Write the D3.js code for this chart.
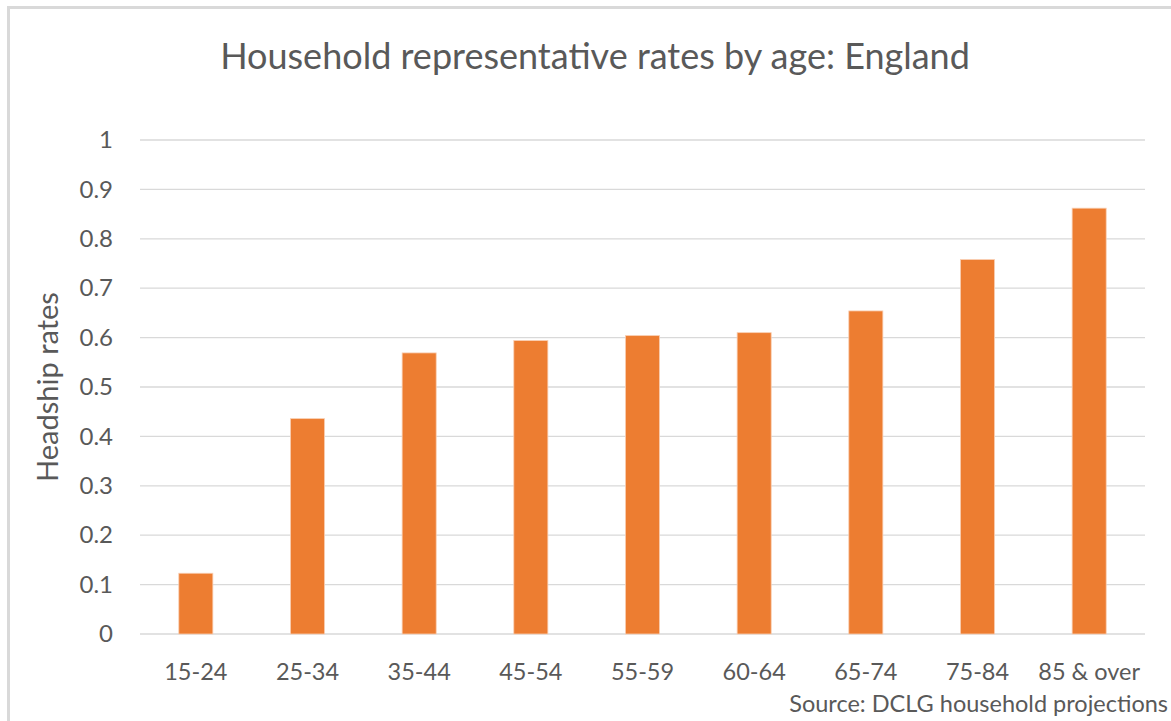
<!DOCTYPE html>
<html>
<head>
<meta charset="utf-8">
<script src="https://cdn.jsdelivr.net/npm/d3@7"></script>
<style>
  html, body { margin: 0; padding: 0; background: #fff; }
  svg { display: block; }
  text { font-family: Lato, "Open Sans", sans-serif; fill: #595959; }
</style>
</head>
<body>
<svg id="chart" width="1171" height="721"></svg>
<script>
// Age groups and headship rates
const ageGroups = ["15-24", "25-34", "35-44", "45-54", "55-59", "60-64", "65-74", "75-84", "85 & over"];
const headshipRates = [0.123, 0.436, 0.569, 0.594, 0.604, 0.610, 0.654, 0.758, 0.862];
const yTicks = [0, 0.1, 0.2, 0.3, 0.4, 0.5, 0.6, 0.7, 0.8, 0.9, 1];

const svg = d3.select("#chart");

// outer frame
svg.append("rect")
  .attr("x", 8.5).attr("y", 7.5)
  .attr("width", 1180).attr("height", 740)
  .attr("fill", "#fff")
  .attr("stroke", "#d9d9d9").attr("stroke-width", 3);

const plot = { left: 140, right: 1145, top: 140, bottom: 634 };

const x = d3.scaleBand()
  .domain(ageGroups)
  .range([plot.left, plot.right])
  .paddingInner(0.695)
  .paddingOuter(0.3475);

const y = d3.scaleLinear().domain([0, 1]).range([plot.bottom, plot.top]);

// gridlines
svg.append("g")
  .selectAll("line")
  .data(yTicks)
  .join("line")
  .attr("x1", plot.left).attr("x2", plot.right)
  .attr("y1", d => y(d)).attr("y2", d => y(d))
  .attr("stroke", "#d9d9d9").attr("stroke-width", 1.3);

// y axis labels
const yAxis = d3.axisLeft(y).tickValues(yTicks).tickSize(0).tickPadding(0)
  .tickFormat(d => d3.format("")(+d.toFixed(1)));
const gy = svg.append("g").attr("transform", `translate(${plot.left - 27},0)`).call(yAxis);
gy.select(".domain").remove();
gy.selectAll("text").attr("font-size", 24).attr("font-family", "Lato, sans-serif").attr("fill", "#595959");

// bars
svg.append("g")
  .selectAll("rect")
  .data(ageGroups)
  .join("rect")
  .attr("x", d => x(d))
  .attr("width", x.bandwidth())
  .attr("y", (d, i) => y(headshipRates[i]))
  .attr("height", (d, i) => y(0) - y(headshipRates[i]))
  .attr("fill", "#ed7d31")
  .attr("stroke", "#f9cfb3").attr("stroke-width", 0.8);

// x axis labels
const xAxis = d3.axisBottom(x).tickSize(0).tickPadding(0);
const gx = svg.append("g").attr("transform", `translate(0,680)`).call(xAxis);
gx.select(".domain").remove();
gx.selectAll("text").attr("font-size", 23.5).attr("font-family", "Lato, sans-serif").attr("fill", "#595959")
  .attr("y", 0).attr("dy", 0);

// title
svg.append("text")
  .attr("x", 595).attr("y", 69)
  .attr("text-anchor", "middle")
  .attr("font-size", 36)
  .text("Household representative rates by age: England");

// y axis title
svg.append("text")
  .attr("transform", `translate(58,387) rotate(-90)`)
  .attr("text-anchor", "middle")
  .attr("font-size", 29)
  .text("Headship rates");

// source note
svg.append("text")
  .attr("x", 1168).attr("y", 712)
  .attr("text-anchor", "end")
  .attr("font-size", 23.5)
  .text("Source: DCLG household projections");
</script>
</body>
</html>
